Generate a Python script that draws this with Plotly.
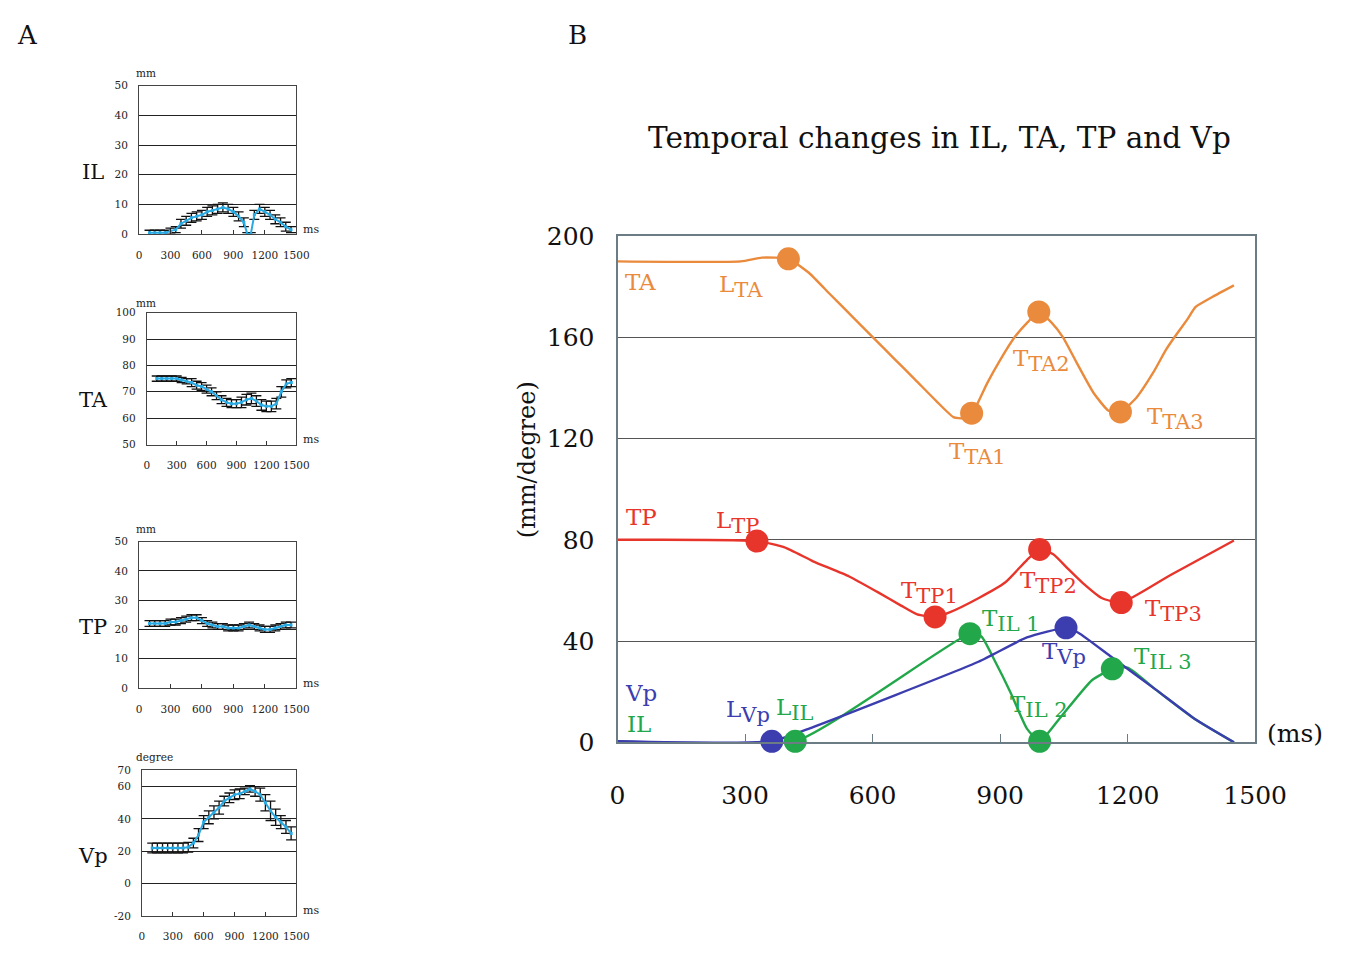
import plotly.graph_objects as go

W, H = 1359, 958
SERIF = "DejaVu Serif"

# ---------------- Panel A data (mean ± SD) ----------------
IL_t = [100, 150, 200, 250, 300, 350, 400, 450, 500, 550, 600, 650, 700, 750, 800, 850, 900, 950, 1000, 1033, 1066, 1100, 1150, 1200, 1250, 1300, 1350, 1400, 1450]
IL_v = [0.5, 0.5, 0.5, 0.5, 1, 1.5, 3.5, 4.5, 5.5, 6, 6.5, 7.5, 8, 8.5, 9, 8.5, 7.5, 6, 4, 0, 0, 6.5, 8.5, 7.5, 6.5, 5, 4, 2.5, 1.5]
IL_e = [0.8, 0.8, 0.8, 0.8, 1, 1, 1.5, 1.5, 1.5, 1.5, 1.5, 1.5, 1.5, 1.5, 1.5, 1.5, 1.5, 1.5, 1.5, 0.5, 0.5, 1.5, 1.5, 1.5, 1.5, 1.5, 1.5, 1.5, 1]

TA_st = [100, 150, 200, 250, 300, 350, 400, 450, 500, 550, 600, 650, 700, 750, 800, 850, 900, 950, 1000, 1050, 1100, 1150, 1200, 1250, 1300, 1350, 1400, 1450]
TA_sv = [75, 75, 75, 75, 75, 74.5, 74, 73.5, 72.5, 72, 71, 70, 68.5, 67, 66, 65.5, 65.5, 66, 67, 67.5, 66.5, 65, 64.5, 64.5, 65.5, 70, 73, 73.5]
TA_se = [1, 1, 1, 1, 1, 1, 1, 1.5, 1.5, 1.5, 1.5, 1.5, 1.5, 1.5, 1.5, 1.5, 1.5, 2, 2, 2, 2, 2, 2, 2, 2, 2, 1.5, 1.5]

TP_st = [100, 150, 200, 250, 300, 350, 400, 450, 500, 550, 600, 650, 700, 750, 800, 850, 900, 950, 1000, 1050, 1100, 1150, 1200, 1250, 1300, 1350, 1400, 1450]
TP_sv = [22, 22, 22, 22, 22.5, 22.5, 23, 23.5, 24, 24, 23, 22, 21.5, 21, 21, 20.5, 20.5, 20.5, 21, 21.5, 21, 20.5, 20, 20, 20.5, 21, 21.5, 21.5]
TP_se = [1] * 28

Vp_st = [100, 150, 200, 250, 300, 350, 400, 450, 500, 550, 600, 650, 700, 750, 800, 850, 900, 950, 1000, 1050, 1100, 1150, 1200, 1250, 1300, 1350, 1400, 1450]
Vp_sv = [22, 22, 22, 22, 22, 22, 22, 22.5, 25, 30, 38, 41, 44, 47, 51, 53, 55, 55.5, 57, 58.5, 57, 55, 50, 45, 41, 38, 35, 31]
Vp_se = [3, 3, 3, 3, 3, 3, 3, 3, 3, 4, 4, 4, 4, 4, 3, 3, 3, 3, 2, 2, 3, 4, 5, 6, 5, 4, 4, 4]

# ---------------- Panel B data ----------------
TA_t = [0, 290, 340, 402, 450, 500, 550, 605, 650, 700, 750, 790, 815, 833, 870, 900, 934, 965, 991, 1020, 1048, 1080, 1120, 1155, 1183, 1220, 1260, 1290, 1310, 1340, 1360, 1400, 1450]
TA_v = [190, 190, 191.5, 191, 185.5, 177, 168.6, 159.3, 151.7, 143.3, 134.8, 128.5, 128, 129.5, 142, 151, 160, 166, 170, 166, 160, 150, 138, 131, 130.5, 136, 146, 155, 160, 167, 172, 176, 180.5]
TA_key_t = [402, 833, 991, 1183]
TA_key_v = [191, 130, 170, 130.5]

TP_t = [0, 328, 393, 460, 545, 610, 667, 705, 747, 781, 850, 911, 963, 993, 1025, 1060, 1094, 1139, 1185, 1300, 1450]
TP_v = [80, 79.5, 77, 71.5, 65.5, 59.5, 54, 50.5, 49.5, 51.3, 57, 63, 72, 76.2, 74.3, 68.5, 63, 57, 55.2, 66, 79.7]
TP_key_t = [328, 747, 993, 1185]
TP_key_v = [79.5, 49.5, 76.2, 55.2]

IL_mt = [0, 418, 829, 856, 888, 925, 963, 993, 1039, 1116, 1164, 1200, 1267, 1358, 1450]
IL_mv = [0.4, 0.4, 42.9, 41.8, 32, 19.5, 5.4, 0.4, 9.2, 24.5, 29, 29.5, 20.7, 9.2, 0]
IL_key_t = [418, 829, 993, 1164]
IL_key_v = [0.4, 42.9, 0.4, 29]

Vp_mt = [0, 363, 460, 849, 963, 1055, 1084, 1162, 1267, 1358, 1450]
Vp_mv = [0.4, 0.4, 6, 31.8, 41.4, 45.2, 43.3, 33.7, 20.7, 9.2, 0]
Vp_key_t = [363, 1055]
Vp_key_v = [0.4, 45.2]

C_TA = "#EA8A3C"
C_TP = "#E8352C"
C_IL = "#22A84A"
C_VP = "#3C3DAE"
C_SM = "#2AAAE2"


def px(x):
    return x / W


def py(y):
    return 1 - y / H


fig = go.Figure()

# ---- small charts ----
small = [
    ("x", "y", IL_t, IL_v, IL_e, [135, 297], [74, 227], [0, 50], list(range(0, 51, 10))),
    ("x2", "y2", TA_st, TA_sv, TA_se, [143, 297], [308, 444], [50, 100], list(range(50, 101, 10))),
    ("x3", "y3", TP_st, TP_sv, TP_se, [135, 297], [544, 695], [0, 50], list(range(0, 51, 10))),
    ("x4", "y4", Vp_st, Vp_sv, Vp_se, [138, 297], [780, 930], [-20, 70], [-20, 0, 20, 40, 60, 70]),
]

layout_axes = {}
for i, (xa, ya, t, v, e, xr, yr, rng, tv) in enumerate(small):
    fig.add_trace(go.Scatter(
        x=t, y=v, xaxis=xa, yaxis=ya, mode="lines+markers",
        line=dict(color=C_SM, width=2), marker=dict(color=C_SM, size=3, symbol="square"),
        error_y=dict(type="data", array=e, color="#111", thickness=1.3, width=5),
        showlegend=False, hoverinfo="skip"))
    n = "" if i == 0 else str(i + 1)
    layout_axes["xaxis" + n] = dict(
        domain=[px(xr[0]), px(xr[1])], anchor=ya, range=[0, 1500],
        tickvals=[0, 300, 600, 900, 1200, 1500], ticks="inside", ticklen=4, tickcolor="#333",
        showgrid=False, showline=True, mirror=True, linecolor="#444", linewidth=1,
        tickfont=dict(family=SERIF, size=10.5, color="#222"), ticklabelstandoff=11, zeroline=False)
    layout_axes["yaxis" + n] = dict(
        domain=[py(yr[1]), py(yr[0])], anchor=xa, range=rng, tickvals=tv,
        ticktext=[str(x) for x in tv],
        showgrid=True, gridcolor="#222", gridwidth=1, showline=True, mirror=True,
        linecolor="#444", linewidth=1, zeroline=False, ticks="", ticklabelstandoff=8,
        tickfont=dict(family=SERIF, size=10.5, color="#222"))

# ---- main chart ----
for t, v, c in [(TA_t, TA_v, C_TA), (TP_t, TP_v, C_TP), (IL_mt, IL_mv, C_IL), (Vp_mt, Vp_mv, C_VP)]:
    fig.add_trace(go.Scatter(x=t, y=v, xaxis="x5", yaxis="y5", mode="lines",
                             line=dict(color=c, width=2.4, shape="spline", smoothing=0.5),
                             showlegend=False, hoverinfo="skip", cliponaxis=False))
for t, v, c in [(TA_key_t, TA_key_v, C_TA), (TP_key_t, TP_key_v, C_TP),
                (IL_key_t, IL_key_v, C_IL), (Vp_key_t, Vp_key_v, C_VP)]:
    fig.add_trace(go.Scatter(x=t, y=v, xaxis="x5", yaxis="y5", mode="markers",
                             marker=dict(color=c, size=23), showlegend=False,
                             hoverinfo="skip", cliponaxis=False))

layout_axes["xaxis5"] = dict(
    domain=[px(628), px(1285)], anchor="y5", range=[0, 1500],
    tickvals=[0, 300, 600, 900, 1200, 1500], ticks="inside", ticklen=8, tickcolor="#6b7c84",
    showgrid=False, showline=True, mirror=True, linecolor="#6b7c84", linewidth=2,
    tickfont=dict(family=SERIF, size=25, color="#111"), ticklabelstandoff=30, zeroline=False)
layout_axes["yaxis5"] = dict(
    domain=[py(751), py(229)], anchor="x5", range=[0, 200],
    tickvals=[0, 40, 80, 120, 160, 200], showgrid=True, gridcolor="#555", gridwidth=1,
    showline=True, mirror=True, linecolor="#6b7c84", linewidth=2, zeroline=False,
    tickfont=dict(family=SERIF, size=25, color="#111"), ticklabelstandoff=16)

ann = []


def A(text, x, y, color, size=23, xref="x5", yref="y5", xanchor="left", yanchor="middle", angle=0):
    ann.append(dict(text=text, x=x, y=y, xref=xref, yref=yref, showarrow=False,
                    xanchor=xanchor, yanchor=yanchor, textangle=angle,
                    font=dict(family=SERIF, size=size, color=color)))


def S(main, sub):
    return main + "<sub><span style='font-size:21px'>" + sub + "</span></sub>"


# main chart labels
A("TA", 14, 182, C_TA)
A(S("L", "TA"), 235, 180, C_TA)
A(S("T", "TA1"), 776, 114, C_TA)
A(S("T", "TA2"), 925, 151, C_TA)
A(S("T", "TA3"), 1242, 128, C_TA)
A("TP", 16, 89, C_TP)
A(S("L", "TP"), 226, 87, C_TP)
A(S("T", "TP1"), 662, 59, C_TP)
A(S("T", "TP2"), 941, 63, C_TP)
A(S("T", "TP3"), 1237, 52, C_TP)
A(S("T", "IL 1"), 852, 48, C_IL)
A(S("T", "Vp"), 993, 35, C_VP)
A(S("T", "IL 3"), 1210, 33, C_IL)
A(S("T", "IL 2"), 918, 14, C_IL)
A("Vp", 14, 19.5, C_VP)
A("IL", 18, 7.3, C_IL)
A(S("L", "Vp"), 251, 12, C_VP)
A(S("L", "IL"), 368, 13, C_IL)
A("(ms)", px(1295), py(742), "#111", size=25, xref="paper", yref="paper")
A("(mm/degree)", px(535), py(460), "#111", size=24, xref="paper", yref="paper",
  xanchor="center", angle=-90)
A("Temporal changes in IL, TA, TP and Vp", px(960), py(128), "#111", size=29.5,
  xref="paper", yref="paper", xanchor="center")
A("A", px(20), py(22), "#111", size=26, xref="paper", yref="paper", xanchor="center")
A("B", px(587), py(22), "#111", size=26, xref="paper", yref="paper", xanchor="center")

# small chart labels
for name, unit, yl, yu, yms in [("IL", "mm", 163, 61, 222), ("TA", "mm", 398, 298, 439),
                                ("TP", "mm", 632, 531, 690), ("Vp", "degree", 868, 766, 924)]:
    A(name, px(88), py(yl), "#111", size=21, xref="paper", yref="paper", xanchor="center")
    A(unit, px(130), py(yu), "#222", size=10.5, xref="paper", yref="paper")
    A("ms", px(302), py(yms), "#222", size=11, xref="paper", yref="paper")

fig.update_layout(
    autosize=True, margin=dict(l=0, r=0, t=0, b=0),
    paper_bgcolor="white", plot_bgcolor="white", showlegend=False,
    annotations=ann, **layout_axes)

POST = """
document.documentElement.style.height='100%';
document.documentElement.style.margin='0';
document.documentElement.style.overflow='hidden';
document.body.style.height='100%';
document.body.style.margin='0';
document.body.style.overflow='hidden';
var gd=document.getElementById('{plot_id}');
gd.parentElement.style.height='100%';
gd.parentElement.style.width='100%';
gd.style.height='100%';
gd.style.width='100%';
Plotly.Plots.resize(gd);
"""

fig.write_html("out.html", config={"displayModeBar": False, "responsive": True},
               default_width="100%", default_height="100%", post_script=POST)
